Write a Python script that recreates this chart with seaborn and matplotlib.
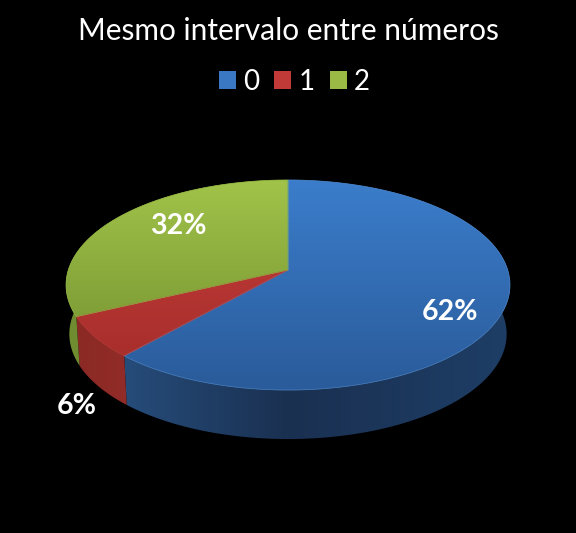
import numpy as np
import matplotlib
matplotlib.use('Agg')
import matplotlib.pyplot as plt
import seaborn as sns
from matplotlib.colors import LinearSegmentedColormap
from matplotlib.patches import Patch
from matplotlib.path import Path
from matplotlib.transforms import Transform, Affine2D

title = 'Mesmo intervalo entre números'
categories = ['0', '1', '2']
values = [61.6, 6.4, 32]

legend_colors = ['#3a78c4', '#c23a38', '#9aba45']
top_light = ['#3b7dcb', '#c53d3b', '#a1c349']
top_dark = ['#2a5b9a', '#a92f2c', '#7f9e37']
wall_left = ['#2a5688', '#8a2925', '#6f8c30']
wall_mid = ['#1a3051', '#a5332e', '#7d9a38']
wall_right = ['#1e3e66', '#a5332e', '#7d9a38']
edges = ['#4f88cc', '#bf3f3b', '#93b444']
top_bottoms = [390, 356, 320]


sns.set_theme(style='dark', rc={'figure.facecolor': 'black', 'axes.facecolor': 'black'})
plt.rcParams['font.family'] = ['Lato', 'DejaVu Sans']


# tilted disc: the far half looks smaller than the near half
class Tilt(Transform):
    input_dims = 2
    output_dims = 2
    has_inverse = False
    is_separable = False

    def transform_non_affine(self, values):
        pts = np.asarray(values, dtype=float)
        w = 1 + pts[:, 1] / 7
        return np.column_stack([288 + 219.7 * pts[:, 0] / w, 270 - 102.9 * pts[:, 1] / w])

    def transform_path_non_affine(self, path):
        big = path.transformed(Affine2D().scale(2000))
        poly = big.to_polygons(closed_only=True)[0] / 2000
        return Path(self.transform_non_affine(poly), closed=True)


tilt = Tilt()

fig = plt.figure(figsize=(5.76, 5.33), dpi=100, facecolor='black')
ax = fig.add_axes([0, 0, 1, 1])

wedges, _ = ax.pie(values, startangle=90, counterclock=False)

yy = np.linspace(0, 1, 256).reshape(-1, 1)
xx = np.linspace(0, 1, 256).reshape(1, -1)

for i, w in enumerate(wedges):
    # side wall first, the top covers the back part of it
    ang = np.radians(np.linspace(w.theta1, w.theta2, 200))
    rim = tilt.transform_non_affine(np.column_stack([np.cos(ang), np.sin(ang)]))
    low = np.column_stack([288 + (rim[:, 0] - 288) * 0.985, rim[:, 1] + 49])
    wall = ax.fill(np.r_[rim[:, 0], low[::-1, 0]], np.r_[rim[:, 1], low[::-1, 1]],
                   facecolor='none', edgecolor='none', zorder=1)[0]
    cmap = LinearSegmentedColormap.from_list('wall', [wall_left[i], wall_mid[i], wall_right[i]])
    im = ax.imshow(xx, extent=[66, 510, 440, 180], cmap=cmap, aspect='auto', zorder=1)
    im.set_clip_path(wall)

    w.set_transform(tilt + ax.transData)
    w.set_facecolor('none')
    w.set_edgecolor(edges[i])
    w.set_linewidth(0.5)
    w.set_zorder(3)
    cmap = LinearSegmentedColormap.from_list('top', [top_light[i], top_dark[i]])
    im = ax.imshow(yy, extent=[66, 510, top_bottoms[i], 180], cmap=cmap, aspect='auto', zorder=2)
    im.set_clip_path(w)

ax.text(450, 312, f'{values[0]:.0f}%', color='white', fontsize=20.5, fontweight='bold', ha='center', va='center', zorder=5)
ax.text(77, 406, f'{values[1]:.0f}%', color='white', fontsize=20.5, fontweight='bold', ha='center', va='center', zorder=5)
ax.text(178, 226, f'{values[2]:.0f}%', color='white', fontsize=20.5, fontweight='bold', ha='center', va='center', zorder=5)

ax.text(288, 31, title, color='white', fontsize=21.5, ha='center', va='center')

handles = [Patch(facecolor=c, edgecolor='none', label=l) for c, l in zip(legend_colors, categories)]
ax.legend(handles=handles, ncol=3, frameon=False, loc='center', bbox_to_anchor=(0.511, 1 - 82 / 533),
          fontsize=20, labelcolor='white', handlelength=0.62, handleheight=0.62,
          handletextpad=0.25, columnspacing=0.55, borderpad=0)

ax.set_xlim(0, 576)
ax.set_ylim(533, 0)
ax.set_aspect('auto')
ax.axis('off')

fig.savefig('out.png', dpi=100, facecolor='black')
